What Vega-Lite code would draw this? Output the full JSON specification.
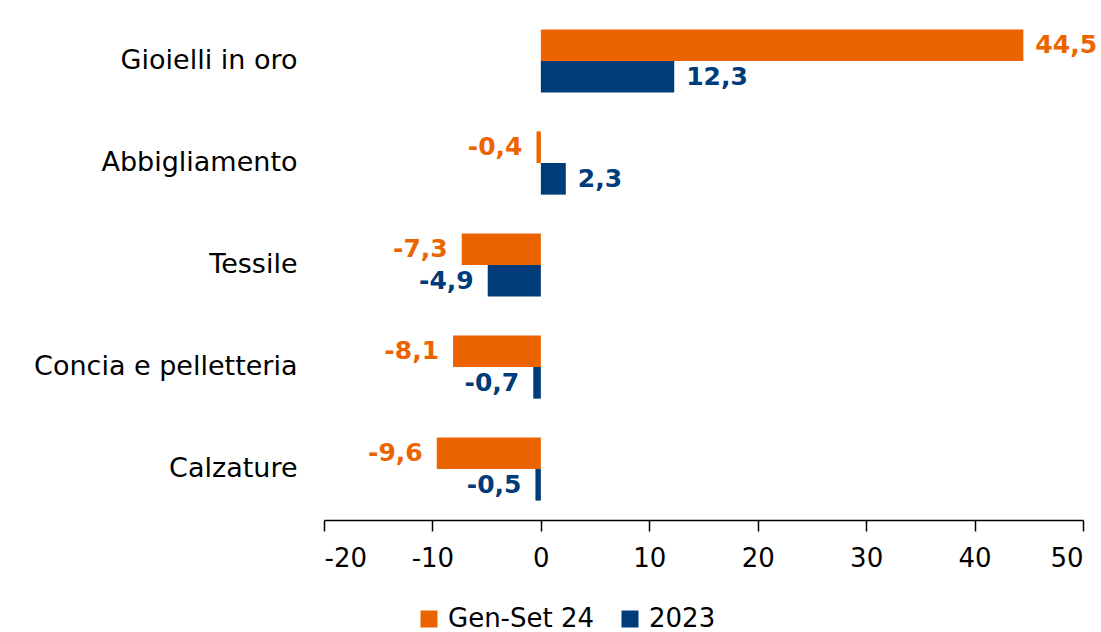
{
  "$schema": "https://vega.github.io/schema/vega-lite/v6.json",
  "width": 759,
  "height": 510,
  "autosize": {"type": "none"},
  "padding": {"left": 324, "top": 10, "right": 18, "bottom": 112},
  "background": "white",
  "config": {
    "locale": {"number": {"decimal": ",", "thousands": ".", "grouping": [3], "currency": ["€", ""], "minus": "-"}},
    "view": {"stroke": null},
    "font": "DejaVu Sans"
  },
  "data": {
    "values": [
      {"categoria": "Gioielli in oro", "serie": "Gen-Set 24", "valore": 44.5},
      {"categoria": "Gioielli in oro", "serie": "2023", "valore": 12.3},
      {"categoria": "Abbigliamento", "serie": "Gen-Set 24", "valore": -0.4},
      {"categoria": "Abbigliamento", "serie": "2023", "valore": 2.3},
      {"categoria": "Tessile", "serie": "Gen-Set 24", "valore": -7.3},
      {"categoria": "Tessile", "serie": "2023", "valore": -4.9},
      {"categoria": "Concia e pelletteria", "serie": "Gen-Set 24", "valore": -8.1},
      {"categoria": "Concia e pelletteria", "serie": "2023", "valore": -0.7},
      {"categoria": "Calzature", "serie": "Gen-Set 24", "valore": -9.6},
      {"categoria": "Calzature", "serie": "2023", "valore": -0.5}
    ]
  },
  "encoding": {
    "y": {
      "field": "categoria",
      "type": "nominal",
      "sort": null,
      "scale": {"paddingInner": 0.38, "paddingOuter": 0.19},
      "axis": {"title": null, "domain": false, "ticks": false, "labelFontSize": 27, "labelColor": "#000000", "labelPadding": 27, "labelLimit": 400}
    },
    "yOffset": {"field": "serie", "type": "nominal", "sort": ["Gen-Set 24", "2023"], "scale": {"paddingInner": 0, "paddingOuter": 0}}
  },
  "layer": [
    {
      "mark": {"type": "bar"},
      "encoding": {
        "x": {
          "field": "valore",
          "type": "quantitative",
          "scale": {"domain": [-20, 50], "nice": false, "zero": false},
          "axis": {"title": null, "values": [-20, -10, 0, 10, 20, 30, 40, 50], "format": "d", "grid": false, "domainColor": "#000000", "domainWidth": 1.5, "tickColor": "#000000", "tickWidth": 1.5, "tickSize": 11, "labelFontSize": 26, "labelColor": "#000000", "labelPadding": 14}
        },
        "color": {
          "field": "serie",
          "type": "nominal",
          "sort": ["Gen-Set 24", "2023"],
          "scale": {"domain": ["Gen-Set 24", "2023"], "range": ["#EB6400", "#003B7A"]},
          "legend": {"title": null, "orient": "none", "direction": "horizontal", "legendX": 92, "legendY": 596, "symbolType": "square", "symbolSize": 289, "symbolStrokeWidth": 0, "labelFontSize": 26, "labelColor": "#000000", "labelOffset": 6, "columnPadding": 22}
        }
      }
    },
    {
      "transform": [{"filter": "datum.valore >= 0"}],
      "mark": {"type": "text", "align": "left", "baseline": "middle", "dx": 12, "fontSize": 25, "fontWeight": "bold"},
      "encoding": {
        "x": {"field": "valore", "type": "quantitative"},
        "text": {"field": "valore", "type": "quantitative", "format": ".1f"},
        "color": {"field": "serie", "type": "nominal", "legend": null}
      }
    },
    {
      "transform": [{"filter": "datum.valore < 0"}],
      "mark": {"type": "text", "align": "right", "baseline": "middle", "dx": -14, "fontSize": 25, "fontWeight": "bold"},
      "encoding": {
        "x": {"field": "valore", "type": "quantitative"},
        "text": {"field": "valore", "type": "quantitative", "format": ".1f"},
        "color": {"field": "serie", "type": "nominal", "legend": null}
      }
    },
    {
      "mark": {"type": "rule", "color": "#000000", "strokeWidth": 2},
      "encoding": {"x": {"datum": 0, "type": "quantitative"}}
    }
  ]
}
